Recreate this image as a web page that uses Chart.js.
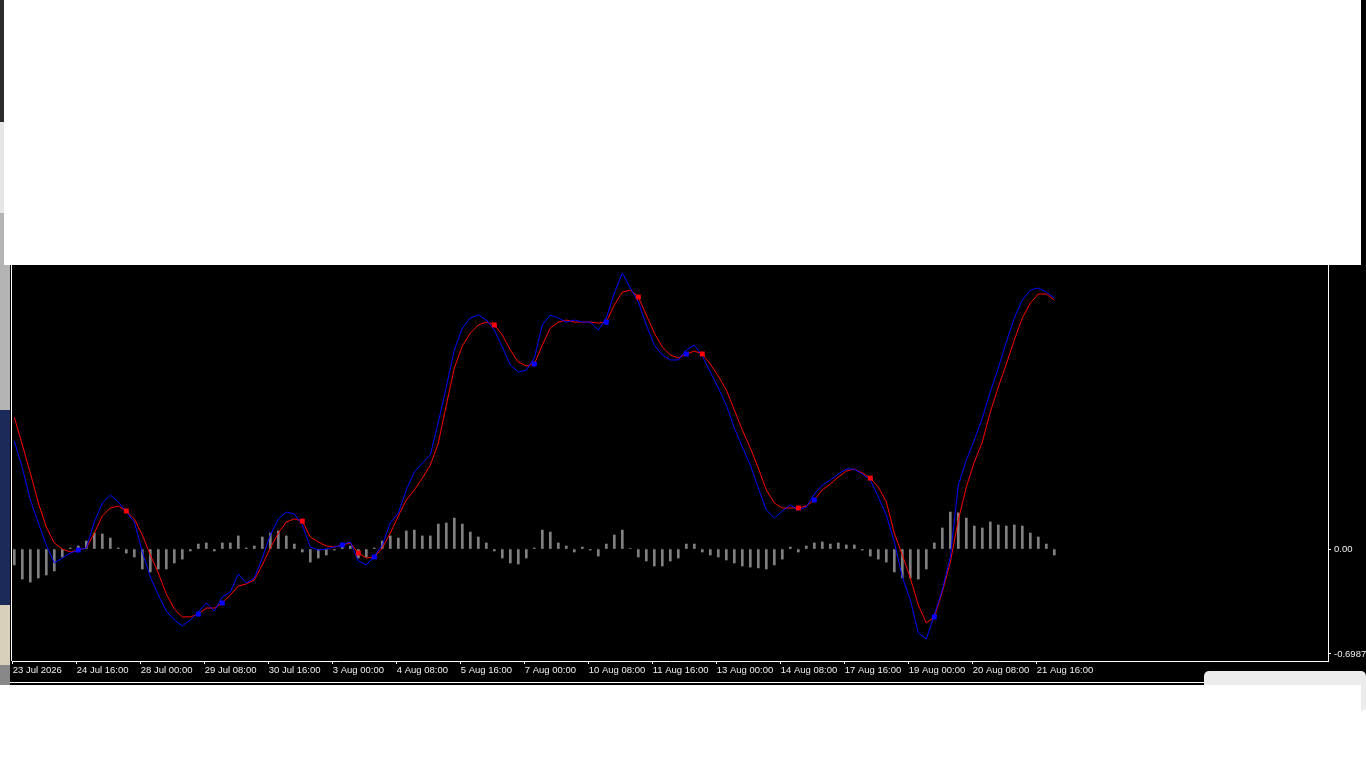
<!DOCTYPE html>
<html>
<head>
<meta charset="utf-8">
<script src="https://cdn.jsdelivr.net/npm/chart.js@4.4.1/dist/chart.umd.min.js"></script>
<style>
  html, body { margin: 0; padding: 0; width: 1366px; height: 768px; overflow: hidden; background: #fff; }
  #frame { position: absolute; left: 0; top: 0; width: 1366px; height: 685px; background: #000; }
  #lstrip { position: absolute; left: 0; top: 0; width: 10px; height: 685px;
    background: linear-gradient(#2b2b2b 0 122px, #e6e6e6 122px 213px, #b4b4b4 213px 410px, #1c2a5a 410px 605px, #d8d0b8 605px 665px, #888 665px 685px); }
  #lborder { position: absolute; left: 11px; top: 250px; width: 1px; height: 411px; background: #fff; }
  #wrap { position: absolute; left: 0; top: 0; width: 1366px; height: 768px; }
  #topcover { position: absolute; left: 4px; top: 0; width: 1357px; height: 265px; background: #fff; }
  #bline { position: absolute; left: 10px; top: 682px; width: 1356px; height: 1px; background: #fff; }
  #popup { position: absolute; left: 1204px; top: 671px; width: 162px; height: 40px; background: #ececec; border-radius: 5px; }
  #bottomcover { position: absolute; left: 0; top: 685px; width: 1361px; height: 83px; background: #fff; }
</style>
</head>
<body>
<div id="frame"></div>
<div id="lstrip"></div>
<div id="lborder"></div>
<div id="wrap"><canvas id="macd"></canvas></div>
<div id="topcover"></div>
<div id="bline"></div>
<div id="popup"></div>
<div id="bottomcover"></div>
<script>
// time axis labels, one every 8 bars
const tickLabels = ['23 Jul 2026', '24 Jul 16:00', '28 Jul 00:00', '29 Jul 08:00', '30 Jul 16:00',
  '3 Aug 00:00', '4 Aug 08:00', '5 Aug 16:00', '7 Aug 00:00', '10 Aug 08:00', '11 Aug 16:00',
  '13 Aug 00:00', '14 Aug 08:00', '17 Aug 16:00', '19 Aug 00:00', '20 Aug 08:00', '21 Aug 16:00'];

// main line (blue)
const macdMain = [
  0.719, 0.539, 0.326, 0.173, 0.027, -0.093, -0.060, -0.027, -0.007, 0.007,
  0.180, 0.306, 0.359, 0.313, 0.246, 0.180, -0.020, -0.186, -0.306, -0.413,
  -0.472, -0.512, -0.472, -0.419, -0.359, -0.413, -0.319, -0.286, -0.166, -0.226,
  -0.193, -0.060, 0.093, 0.200, 0.246, 0.233, 0.160, 0.013, -0.007, 0.000,
  0.013, 0.027, 0.047, -0.080, -0.106, -0.047, 0.027, 0.173, 0.240, 0.393,
  0.512, 0.572, 0.625, 0.845, 1.078, 1.324, 1.471, 1.537, 1.557, 1.524,
  1.457, 1.344, 1.224, 1.178, 1.191, 1.271, 1.491, 1.557, 1.537, 1.510,
  1.524, 1.510, 1.510, 1.457, 1.537, 1.703, 1.837, 1.737, 1.644, 1.491,
  1.357, 1.291, 1.258, 1.258, 1.324, 1.357, 1.284, 1.178, 1.071, 0.958,
  0.805, 0.679, 0.559, 0.406, 0.260, 0.206, 0.253, 0.293, 0.260, 0.279,
  0.366, 0.426, 0.459, 0.499, 0.532, 0.532, 0.499, 0.459, 0.346, 0.226,
  0.047, -0.186, -0.339, -0.559, -0.599, -0.439, -0.273, -0.053, 0.426, 0.592,
  0.725, 0.872, 1.045, 1.204, 1.377, 1.537, 1.657, 1.723, 1.737, 1.710,
  1.670
];

// signal line (red)
const macdSignal = [
  0.878, 0.692, 0.506, 0.306, 0.146, 0.040, 0.000, -0.020, -0.007, 0.007,
  0.106, 0.220, 0.273, 0.286, 0.253, 0.200, 0.093, -0.040, -0.160, -0.299,
  -0.399, -0.452, -0.452, -0.433, -0.393, -0.393, -0.359, -0.306, -0.246, -0.233,
  -0.206, -0.106, 0.007, 0.106, 0.180, 0.200, 0.186, 0.080, 0.047, 0.020,
  0.013, 0.027, 0.040, -0.027, -0.060, -0.053, 0.007, 0.106, 0.220, 0.326,
  0.393, 0.472, 0.559, 0.705, 0.958, 1.204, 1.351, 1.437, 1.491, 1.510,
  1.491, 1.424, 1.324, 1.244, 1.218, 1.231, 1.357, 1.471, 1.510, 1.524,
  1.510, 1.510, 1.510, 1.504, 1.510, 1.624, 1.710, 1.723, 1.677, 1.557,
  1.437, 1.344, 1.291, 1.271, 1.298, 1.317, 1.298, 1.231, 1.151, 1.058,
  0.925, 0.792, 0.672, 0.539, 0.393, 0.306, 0.273, 0.273, 0.273, 0.286,
  0.326, 0.393, 0.433, 0.479, 0.519, 0.532, 0.506, 0.472, 0.413, 0.313,
  0.106, -0.040, -0.193, -0.373, -0.492, -0.452, -0.286, -0.087, 0.193, 0.413,
  0.579, 0.712, 0.912, 1.078, 1.231, 1.391, 1.537, 1.637, 1.697, 1.697,
  1.657
];

// histogram (grey bars)
const histogram = [
  -0.106, -0.200, -0.220, -0.193, -0.173, -0.146, -0.053, 0.007, 0.020, 0.053,
  0.106, 0.100, 0.073, 0.007, -0.027, -0.053, -0.133, -0.153, -0.133, -0.133,
  -0.093, -0.067, -0.013, 0.033, 0.040, -0.013, 0.040, 0.040, 0.087, 0.007,
  0.020, 0.080, 0.106, 0.120, 0.087, 0.033, -0.020, -0.087, -0.060, -0.040,
  -0.007, 0.027, 0.020, -0.060, -0.053, 0.007, 0.053, 0.087, 0.073, 0.120,
  0.126, 0.087, 0.087, 0.166, 0.173, 0.206, 0.166, 0.113, 0.080, 0.040,
  -0.013, -0.060, -0.093, -0.100, -0.060, 0.007, 0.126, 0.113, 0.040, 0.020,
  -0.020, 0.013, -0.007, -0.047, 0.033, 0.093, 0.126, 0.003, -0.053, -0.080,
  -0.113, -0.113, -0.080, -0.060, 0.033, 0.033, -0.020, -0.040, -0.053, -0.073,
  -0.093, -0.113, -0.120, -0.126, -0.133, -0.106, -0.067, 0.013, -0.020, 0.020,
  0.040, 0.047, 0.033, 0.040, 0.027, 0.027, -0.007, -0.047, -0.067, -0.087,
  -0.153, -0.193, -0.193, -0.200, -0.133, 0.040, 0.140, 0.246, 0.240, 0.206,
  0.153, 0.140, 0.180, 0.160, 0.153, 0.160, 0.153, 0.106, 0.080, 0.033,
  -0.040
];

// crossing markers (bar indices)
const crossUpIdx = [8, 23, 26, 41, 45, 65, 74, 84, 100, 115];
const crossDownIdx = [14, 36, 43, 60, 78, 86, 98, 107];

const minVal = -0.6987;

const pts = arr => arr.map((v, i) => ({ x: i, y: v }));
const marks = idx => idx.map(i => ({ x: i, y: macdSignal[i] }));

const axisFont = { family: 'Liberation Sans', size: 9.5 };

new Chart(document.getElementById('macd'), {
  type: 'bar',
  data: {
    datasets: [
      { type: 'scatter', data: marks(crossUpIdx), pointStyle: 'rect', pointRadius: 3.5,
        backgroundColor: '#0000ff', borderWidth: 0, order: 1 },
      { type: 'scatter', data: marks(crossDownIdx), pointStyle: 'rect', pointRadius: 3.5,
        backgroundColor: '#ff0000', borderWidth: 0, order: 1 },
      { type: 'line', data: pts(macdMain), borderColor: '#0000ff', borderWidth: 1,
        pointRadius: 0, tension: 0, fill: false, order: 2 },
      { type: 'line', data: pts(macdSignal), borderColor: '#ff0000', borderWidth: 1,
        pointRadius: 0, tension: 0, fill: false, order: 3 },
      { type: 'bar', data: pts(histogram), backgroundColor: '#808080', barThickness: 2, order: 4 }
    ]
  },
  options: {
    responsive: true,
    maintainAspectRatio: false,
    animation: false,
    events: [],
    layout: { padding: { left: 12, top: 262, right: 0, bottom: 0 } },
    plugins: { legend: { display: false }, tooltip: { enabled: false } },
    scales: {
      x: {
        type: 'linear',
        offset: false,
        min: -0.29,
        max: 164.21,
        afterFit: s => { s.height = 107; },
        afterBuildTicks: s => { s.ticks = tickLabels.map((t, j) => ({ value: j * 8 - 0.2 })); },
        grid: { offset: false, drawOnChartArea: false, drawTicks: true, tickLength: 3, color: '#ffffff' },
        border: { display: true, color: '#ffffff', width: 1 },
        ticks: {
          autoSkip: false, maxRotation: 0, align: 'start', padding: 1,
          color: '#f0f0f0', font: axisFont,
          callback: (v, j) => tickLabels[j]
        }
      },
      y: {
        position: 'right',
        min: -0.7453,
        max: 1.91,
        afterFit: s => { s.width = 38; },
        afterBuildTicks: s => { s.ticks = [{ value: minVal }, { value: 0 }]; },
        grid: { drawOnChartArea: false, drawTicks: true, tickLength: 3, color: '#ffffff' },
        border: { display: true, color: '#ffffff', width: 1 },
        ticks: {
          padding: 3, color: '#f0f0f0', font: axisFont,
          callback: v => (v === 0 ? '0.00' : v.toFixed(4))
        }
      }
    }
  }
});
</script>
</body>
</html>
